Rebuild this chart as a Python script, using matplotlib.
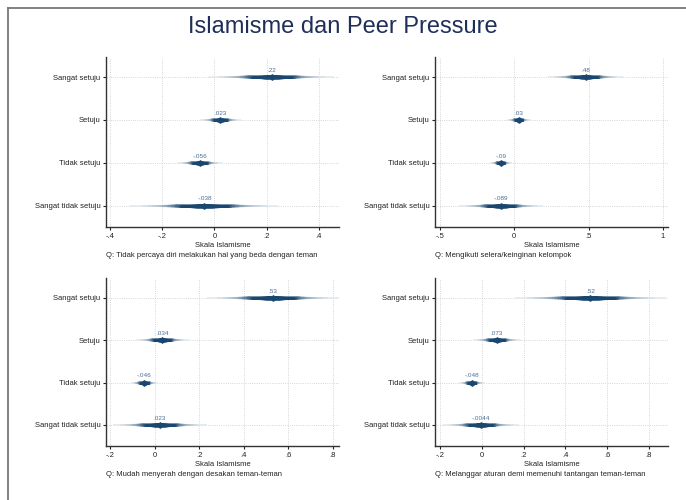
import matplotlib
matplotlib.use("Agg")
import matplotlib.pyplot as plt
from matplotlib.lines import Line2D
from matplotlib.colors import to_rgb
from statistics import NormalDist

plt.rcParams['font.family'] = ['Liberation Sans', 'DejaVu Sans']

# answer categories, top to bottom
categories = ["Sangat setuju", "Setuju", "Tidak setuju", "Sangat tidak setuju"]

questions = [
    "Q: Tidak percaya diri melakukan hal yang beda dengan teman",
    "Q: Mengikuti selera/keinginan kelompok",
    "Q: Mudah menyerah dengan desakan teman-teman",
    "Q: Melanggar aturan demi memenuhi tantangan teman-teman",
]

# mean Islamism score per category and its standard error
est_q1 = [0.22, 0.023, -0.056, -0.038]
se_q1 = [0.093, 0.030, 0.033, 0.110]
est_q2 = [0.48, 0.03, -0.09, -0.089]
se_q2 = [0.098, 0.031, 0.029, 0.110]
est_q3 = [0.53, 0.034, -0.046, 0.023]
se_q3 = [0.115, 0.046, 0.024, 0.082]
est_q4 = [0.52, 0.073, -0.048, -0.0044]
se_q4 = [0.140, 0.044, 0.024, 0.070]

ticks_q1 = [-0.4, -0.2, 0, 0.2, 0.4]
ticks_q2 = [-0.5, 0, 0.5, 1]
ticks_q3 = [-0.2, 0, 0.2, 0.4, 0.6, 0.8]
ticks_q4 = [-0.2, 0, 0.2, 0.4, 0.6, 0.8]

xlim_q1 = (-0.415, 0.477)
xlim_q2 = (-0.533, 1.034)
xlim_q3 = (-0.218, 0.827)
xlim_q4 = (-0.224, 0.891)

NAVY = "#1a476f"
LABEL_BLUE = "#4c6e98"
TITLE_COLOR = "#1f2f57"


def stata_num(v):
    s = f"{v:g}"
    return s.replace("0.", ".", 1) if s.startswith(("0.", "-0.")) else s


def smooth_ci(ax, y, est, se):
    # stack of CIs, widest/lightest first, narrowest/darkest on top
    navy = to_rgb(NAVY)
    for lev in range(99, 0, -2):
        z = NormalDist().inv_cdf(0.5 + lev / 200)
        t = 1 - lev / 100
        k = min(1.0, 0.10 + 2.2 * t)
        col = tuple(1 - k * (1 - c) for c in navy)
        lw = 1.2 + 1.6 * t ** 0.9
        ax.plot([est - z * se, est + z * se], [y, y], color=col, lw=lw,
                solid_capstyle="butt", zorder=3)


def panel(ax, est, se, ticks, xlim, question):
    ypos = list(range(len(categories)))
    for y, e, s in zip(ypos, est, se):
        smooth_ci(ax, y, e, s)
    ax.plot(est, ypos, "D", color=NAVY, ms=2.8, zorder=5)
    for y, e in zip(ypos, est):
        ax.annotate(stata_num(e), (e, y), xytext=(0, 3), textcoords="offset points",
                    ha="center", va="bottom", fontsize=4.6, color=LABEL_BLUE)

    ax.set_xlim(*xlim)
    ax.set_ylim(3.5, -0.47)
    ax.set_xticks(ticks)
    ax.set_xticklabels([stata_num(t) for t in ticks])
    ax.set_yticks(ypos)
    ax.set_yticklabels(categories)
    ax.tick_params(labelsize=5.5, length=2.5, width=0.8, pad=1.5, colors="#222222")
    ax.grid(True, ls=":", lw=0.6, color="#c8c8c8", zorder=0)
    ax.set_axisbelow(True)
    for side in ("top", "right"):
        ax.spines[side].set_visible(False)
    for side in ("left", "bottom"):
        ax.spines[side].set_linewidth(1.0)
        ax.spines[side].set_color("#333333")

    ax.annotate("Skala Islamisme", (0.5, 0), xycoords="axes fraction",
                xytext=(0, -13), textcoords="offset points",
                ha="center", va="center", fontsize=5.5, color="#222222")
    ax.annotate(question, (0, 0), xycoords="axes fraction",
                xytext=(0, -20.5), textcoords="offset points",
                ha="left", va="center", fontsize=5.5, color="#222222")


fig = plt.figure(figsize=(6.86, 5), dpi=100)

# outer frame (only top and left edges show)
fig.add_artist(Line2D([8 / 686, 8 / 686], [0, 1 - 8 / 500], transform=fig.transFigure,
                      color="#777777", lw=1.3))
fig.add_artist(Line2D([8 / 686, 1], [1 - 8 / 500, 1 - 8 / 500], transform=fig.transFigure,
                      color="#777777", lw=1.3))

fig.text(0.5, 1 - 27 / 500, "Islamisme dan Peer Pressure", ha="center", va="center",
         fontsize=17, color=TITLE_COLOR)

boxes = [
    (106, 339, 57, 227),
    (435, 668, 57, 227),
    (106, 339, 278, 446),
    (435, 668, 278, 446),
]
data = [
    (est_q1, se_q1, ticks_q1, xlim_q1),
    (est_q2, se_q2, ticks_q2, xlim_q2),
    (est_q3, se_q3, ticks_q3, xlim_q3),
    (est_q4, se_q4, ticks_q4, xlim_q4),
]
for (x0, x1, y0, y1), (est, se, ticks, xlim), q in zip(boxes, data, questions):
    ax = fig.add_axes([x0 / 686, 1 - y1 / 500, (x1 - x0) / 686, (y1 - y0) / 500])
    panel(ax, est, se, ticks, xlim, q)

fig.savefig("out.png", dpi=100)
